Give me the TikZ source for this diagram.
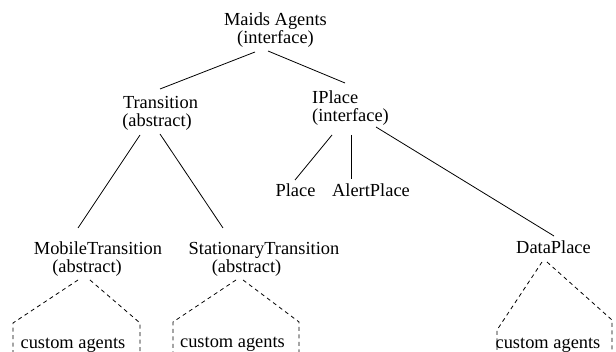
\documentclass[tikz,border=0pt]{standalone}
\usepackage{fontspec}
\setmainfont{Liberation Serif}
\usetikzlibrary{calc}
\begin{document}
\begin{tikzpicture}[x=1pt,y=-1pt,
  lbl/.style={font=\fontsize{18.4}{17.5}\selectfont, inner sep=0pt, align=center, anchor=base},
  edge/.style={line width=0.8pt},
  stub/.style={line width=0.8pt, dash pattern=on 4pt off 3.5pt}]
\useasboundingbox (0,0) rectangle (616,352);
\fill[white] (0,0) rectangle (616,352);
\clip (0,0) rectangle (616,352);
% nodes (base anchor = baseline of the last line)
\node[lbl] (maids) at (275.5,43.5) {Maids Agents\\(interface)};
\node[lbl] (trans) at (160.5,126.5) {Transition\\\hspace*{-7pt}(abstract)};
\node[lbl, align=left, anchor=base west] (iplace) at (312,121.5) {IPlace\\(interface)};
\node[lbl] (mobile) at (98,272.5) {MobileTransition\\\hspace*{-22pt}(abstract)};
\node[lbl] (stat) at (264,272.5) {StationaryTransition\\\hspace*{-35pt}(abstract)};
\node[lbl] (place) at (295.5,197) {Place};
\node[lbl] (alert) at (371,197) {AlertPlace};
\node[lbl] (data) at (553.5,254) {DataPlace};
\node[lbl] (cust1) at (73,349) {custom agents};
\node[lbl] (cust2) at (232.5,348) {custom agents};
\node[lbl] (cust3) at (548,349) {custom agents};
% connectors
\draw[edge] ($(maids.base)+(-20.5,8.5)$) -- ($(trans.base)+(-0.5,-37.5)$);
\draw[edge] ($(maids.base)+(-7.5,7.5)$) -- ($(iplace.base west)+(33,-38.5)$);
\draw[edge] ($(trans.base)+(-20.5,8.5)$) -- ($(mobile.base)+(-20,-44.5)$);
\draw[edge] ($(trans.base)+(-0.5,7.5)$) -- ($(stat.base)+(-41,-44.5)$);
\draw[edge] ($(iplace.base west)+(20,13.5)$) -- ($(place.base)+(-0.5,-17)$);
\draw[edge] ($(iplace.base west)+(39,13.5)$) -- ($(alert.base)+(-20,-18)$);
\draw[edge] ($(iplace.base west)+(64,5.5)$) -- ($(data.base)+(0.5,-18)$);
% dashed placeholders
\draw[stub] ($(mobile.base)+(-20,7.5)$) -- ($(mobile.base)+(-85,50.5)$) -- ++(0,40);
\draw[stub] ($(mobile.base)+(-8,7.5)$) -- ($(mobile.base)+(42,50.5)$) -- ++(0,40);
\draw[stub] ($(stat.base)+(-28,7.5)$) -- ($(stat.base)+(-91,49.5)$) -- ++(0,40);
\draw[stub] ($(stat.base)+(-21,7.5)$) -- ($(stat.base)+(35,49.5)$) -- ++(0,40);
\draw[stub] ($(data.base)+(-11.5,8)$) -- ($(data.base)+(-56.5,76)$) -- ++(0,40);
\draw[stub] ($(data.base)+(-6.5,8)$) -- ($(data.base)+(58.5,66)$) -- ++(0,40);
\end{tikzpicture}
\end{document}
